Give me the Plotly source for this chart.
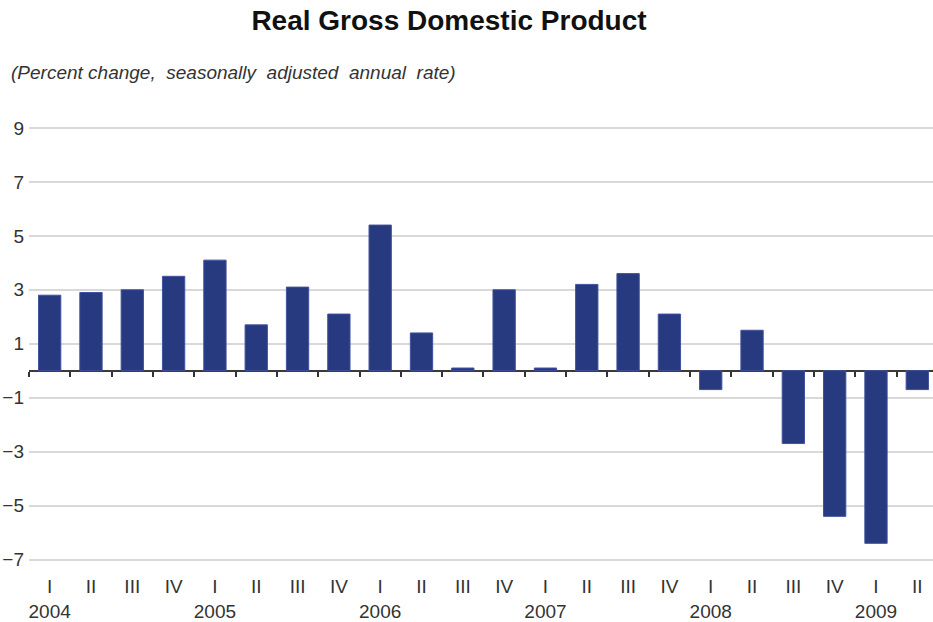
import plotly.graph_objects as go

# Quarterly real GDP growth, percent change at a seasonally adjusted annual rate
quarters = ["I", "II", "III", "IV"] * 5 + ["I", "II"]
years = ["2004", "2005", "2006", "2007", "2008", "2009"]
gdp_change = [2.8, 2.9, 3.0, 3.5,
              4.1, 1.7, 3.1, 2.1,
              5.4, 1.4, 0.1, 3.0,
              0.1, 3.2, 3.6, 2.1,
              -0.7, 1.5, -2.7, -5.4,
              -6.4, -0.7]
y_ticks = [-7, -5, -3, -1, 1, 3, 5, 7, 9]

# Label each quarter; the year goes under the first quarter of each year
tick_text = []
year_iter = iter(years)
for q in quarters:
    tick_text.append(f"{q}<br>{next(year_iter)}" if q == "I" else q)

x_pos = list(range(len(gdp_change)))
y_range = [-7.5, 10]
x_range = [-0.5, 21.38]
zero_frac = -y_range[0] / (y_range[1] - y_range[0])

FONT = "Liberation Sans, Arial, sans-serif"
BAR = "#27397f"

fig = go.Figure()
fig.add_trace(go.Bar(
    x=x_pos,
    y=gdp_change,
    width=0.54,
    marker=dict(color=BAR, line=dict(color="#4152a0", width=1)),
    hoverinfo="y",
))

fig.update_layout(
    width=933,
    height=622,
    margin=dict(l=29, r=0, t=101, b=49),
    paper_bgcolor="white",
    plot_bgcolor="white",
    showlegend=False,
    title=dict(
        text="<b>Real Gross Domestic Product</b>",
        font=dict(family=FONT, size=28, color="#111111"),
        x=449 / 933, xanchor="center", xref="container",
        y=1 - 20 / 622, yanchor="middle", yref="container",
    ),
    xaxis=dict(
        range=x_range,
        tickmode="array",
        tickvals=x_pos,
        ticktext=tick_text,
        ticks="",
        showline=False,
        showgrid=False,
        zeroline=False,
        automargin=False,
        tickfont=dict(family=FONT, size=19, color="#333333"),
    ),
    # boundary tick marks hanging off the zero line
    xaxis2=dict(
        overlaying="x",
        anchor="free",
        position=zero_frac,
        side="bottom",
        range=x_range,
        tickmode="array",
        tickvals=[i - 0.5 for i in range(len(gdp_change) + 1)],
        ticks="outside",
        ticklen=5,
        tickwidth=1.5,
        tickcolor="#333333",
        showticklabels=False,
        showline=False,
        showgrid=False,
        zeroline=False,
        automargin=False,
    ),
    yaxis=dict(
        range=y_range,
        tickmode="array",
        tickvals=y_ticks,
        showgrid=True,
        gridcolor="#d9d9d9",
        gridwidth=2,
        zeroline=True,
        zerolinecolor="#3a3a3a",
        zerolinewidth=1.5,
        showline=False,
        ticks="",
        ticklabelstandoff=4,
        automargin=False,
        tickfont=dict(family=FONT, size=19, color="#333333"),
    ),
    annotations=[dict(
        text="<i>(Percent change,  seasonally  adjusted  annual  rate)</i>",
        xref="paper", yref="paper",
        x=(9 - 29) / 904, xanchor="left",
        y=(573 - 73) / 472, yanchor="middle",
        showarrow=False,
        font=dict(family=FONT, size=19, color="#333333"),
    )],
)

# invisible trace to bind the tick-mark axis
fig.add_trace(go.Scatter(x=[0], y=[0], xaxis="x2", mode="markers",
                         marker=dict(opacity=0), hoverinfo="skip"))

fig.write_html("out.html")
